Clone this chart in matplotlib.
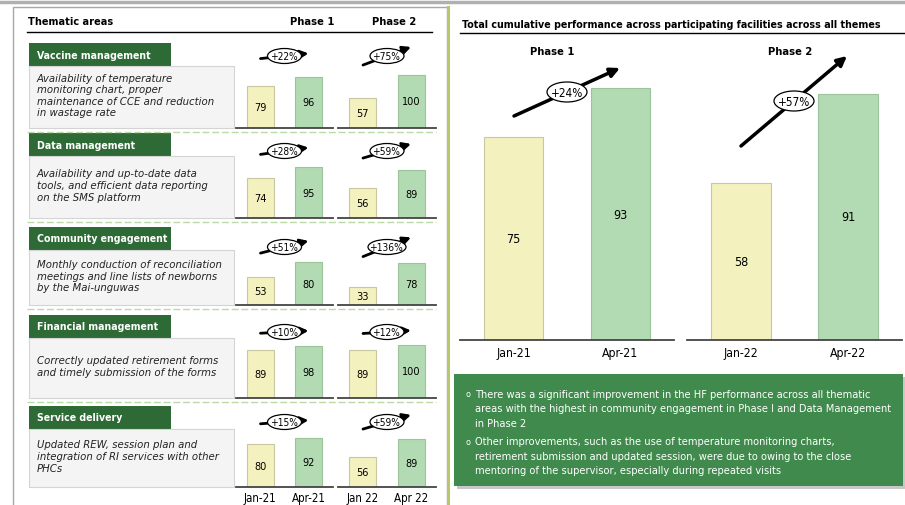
import matplotlib
matplotlib.use("Agg")
import matplotlib.pyplot as plt
from matplotlib.patches import Rectangle, Ellipse

plt.rcParams['font.family'] = ['DejaVu Sans']
plt.rcParams['font.stretch'] = 'condensed'

W, H = 905, 506

# ---- data ----
themes = ["Vaccine management", "Data management", "Community engagement",
          "Financial management", "Service delivery"]
descriptions = [
    "Availability of temperature\nmonitoring chart, proper\nmaintenance of CCE and reduction\nin wastage rate",
    "Availability and up-to-date data\ntools, and efficient data reporting\non the SMS platform",
    "Monthly conduction of reconciliation\nmeetings and line lists of newborns\nby the Mai-unguwas",
    "Correctly updated retirement forms\nand timely submission of the forms",
    "Updated REW, session plan and\nintegration of RI services with other\nPHCs",
]
jan21 = [79, 74, 53, 89, 80]
apr21 = [96, 95, 80, 98, 92]
jan22 = [57, 56, 33, 89, 56]
apr22 = [100, 89, 78, 100, 89]
small_ticks = [["Jan-21", "Apr-21"], ["Jan 22", "Apr 22"]]

total_phase1 = [75, 93]
total_phase2 = [58, 91]
total_ticks = [["Jan-21", "Apr-21"], ["Jan-22", "Apr-22"]]

notes = [
    ["There was a significant improvement in the HF performance across all thematic",
     "areas with the highest in community engagement in Phase I and Data Management",
     "in Phase 2"],
    ["Other improvements, such as the use of temperature monitoring charts,",
     "retirement submission and updated session, were due to owing to the close",
     "mentoring of the supervisor, especially during repeated visits"],
]

YELLOW, YELLOW_EDGE = "#f3f1be", "#c9c7a2"
GREEN, GREEN_EDGE = "#b3dbb3", "#9cc49c"
DARK_GREEN = "#2e6a35"
BOX_GREEN = "#3f8a4c"


def pct(a, b):
    return "+{}%".format(round((b - a) / a * 100))


fig = plt.figure(figsize=(W / 100, H / 100), dpi=100)


def px_axes(x0, y0, x1, y1):
    return fig.add_axes([x0 / W, 1 - y1 / H, (x1 - x0) / W, (y1 - y0) / H])


bg = px_axes(0, 0, W, H)
bg.set_xlim(0, W)
bg.set_ylim(H, 0)
bg.axis("off")

# frame / separators
bg.plot([0, W], [3, 3], color="#b0b0b0", lw=2.5)
bg.add_patch(Rectangle((13, 8), 434, 510, fc="none", ec="#a8a8a8", lw=1))
bg.plot([447.5, 447.5], [8, H], color="#b8c66c", lw=2.2)

bg.text(28, 22, "Thematic areas", fontsize=7.8, fontweight="bold", va="center")
bg.text(312, 22, "Phase 1", fontsize=8, fontweight="bold", va="center", ha="center")
bg.text(394, 22, "Phase 2", fontsize=8, fontweight="bold", va="center", ha="center")
bg.plot([27, 432], [33, 33], color="k", lw=1)

head_tops = [44, 134, 228, 316, 407]
baselines = [129, 219, 306, 399, 488]
badge_off = [72, 67, 58, 66, 65]

fg_items = []
for i, theme in enumerate(themes):
    top, base = head_tops[i], baselines[i]
    bg.add_patch(Rectangle((29, top), 142, 23, fc=DARK_GREEN, ec="none"))
    bg.text(37, top + 11.5, theme, color="white", fontsize=7.6,
            fontweight="bold", va="center")
    bg.add_patch(Rectangle((29, top + 23), 205, base - top - 23,
                           fc="#f4f4f4", ec="#d4d4d4", lw=0.8))
    bg.text(37, (top + 23 + base) / 2 - 2, descriptions[i], fontsize=8.1,
            style="italic", va="center", linespacing=1.2, color="#222222")
    if i < len(themes) - 1:
        bg.plot([27, 436], [base + 4, base + 4], color="#bcd9a8", lw=1,
                ls=(0, (5, 2)))

    for p, (x0, x1, a, b) in enumerate([(236, 333, jan21[i], apr21[i]),
                                         (338, 436, jan22[i], apr22[i])]):
        ax = px_axes(x0, base - 62, x1, base)
        ax.patch.set_alpha(0)
        vals = [a, b]
        ax.bar([0, 1], vals, width=0.56, color=[YELLOW, GREEN],
               edgecolor=[YELLOW_EDGE, GREEN_EDGE], lw=0.8)
        for k, v in enumerate(vals):
            ax.text(k, v / 2, str(v), ha="center", va="center", fontsize=7.8)
        ax.set_xlim(-0.5, 1.5)
        ax.set_ylim(0, 116)
        for s in ["top", "right", "left"]:
            ax.spines[s].set_visible(False)
        ax.spines["bottom"].set_color("#444444")
        ax.spines["bottom"].set_linewidth(1.3)
        ax.set_yticks([])
        if i == len(themes) - 1:
            ax.set_xticks([0, 1])
            ax.set_xticklabels(small_ticks[p], fontsize=8.3)
            ax.tick_params(axis="x", length=0, pad=3)
        else:
            ax.set_xticks([])
        fg_items.append(((x0 + x1) / 2, base - badge_off[i], pct(a, b),
                         (b - a) / a * 100))

# ---- right panel ----
bg.text(462, 25, "Total cumulative performance across participating facilities across all themes",
        fontsize=7.7, fontweight="bold", va="center")
bg.plot([460, W], [34, 34], color="k", lw=1)
bg.text(552, 52, "Phase 1", fontsize=8, fontweight="bold", va="center", ha="center")
bg.text(790, 52, "Phase 2", fontsize=8, fontweight="bold", va="center", ha="center")

big_axes_x = [(460, 674), (687, 902)]
big_arrow = [((514, 117), (620, 69)), ((741, 147), (847, 57))]
for p, vals in enumerate([total_phase1, total_phase2]):
    x0, x1 = big_axes_x[p]
    ax = px_axes(x0, 57, x1, 341)
    ax.patch.set_alpha(0)
    ax.bar([0, 1], vals, width=0.56, color=[YELLOW, GREEN],
           edgecolor=[YELLOW_EDGE, GREEN_EDGE], lw=0.8)
    for k, v in enumerate(vals):
        ax.text(k, v / 2, str(v), ha="center", va="center", fontsize=9)
    ax.set_xlim(-0.5, 1.5)
    ax.set_ylim(0, 105)
    for s in ["top", "right", "left"]:
        ax.spines[s].set_visible(False)
    ax.spines["bottom"].set_color("#444444")
    ax.spines["bottom"].set_linewidth(1.3)
    ax.set_yticks([])
    ax.set_xticks([0, 1])
    ax.set_xticklabels(total_ticks[p], fontsize=8.8)
    ax.tick_params(axis="x", length=0, pad=4)

# notes box
bg.add_patch(Rectangle((457, 378), 449, 112, fc="#c8c8c8", ec="none"))
bg.add_patch(Rectangle((454, 375), 449, 112, fc=BOX_GREEN, ec="none"))
y = 395
for note in notes:
    bg.text(465, y, "o", color="white", fontsize=6.5, va="center")
    for line in note:
        bg.text(475, y, line, color="white", fontsize=7.95, va="center")
        y += 14.5
    y += 4

# ---- overlay for badges / arrows ----
fg = px_axes(0, 0, W, H)
fg.set_xlim(0, W)
fg.set_ylim(H, 0)
fg.axis("off")


def badge(cx, cy, label, half_w, half_rise, ew, eh, lw, fs, ms):
    fg.annotate("", xy=(cx + half_w, cy - half_rise),
                xytext=(cx - half_w, cy + half_rise),
                arrowprops=dict(arrowstyle="-|>", lw=lw, color="k",
                                mutation_scale=ms, shrinkA=0, shrinkB=0))
    fg.add_patch(Ellipse((cx, cy), ew, eh, fc="white", ec="k", lw=0.9, zorder=3))
    fg.text(cx, cy, label, ha="center", va="center", fontsize=fs, zorder=4)


for cx, cy, label, g in fg_items:
    badge(cx, cy, label, 24, min(g, 80) * 0.12, 38 if len(label) > 4 else 34,
          15, 2, 7.3, 12)

for p, ((tx, ty), (hx, hy)) in enumerate(big_arrow):
    vals = [total_phase1, total_phase2][p]
    cx, cy = (tx + hx) / 2, (ty + hy) / 2
    badge(cx, cy, pct(vals[0], vals[1]), (hx - tx) / 2, (ty - hy) / 2,
          40, 20, 2.5, 8.5, 14)

fig.savefig("out.png", dpi=100)
